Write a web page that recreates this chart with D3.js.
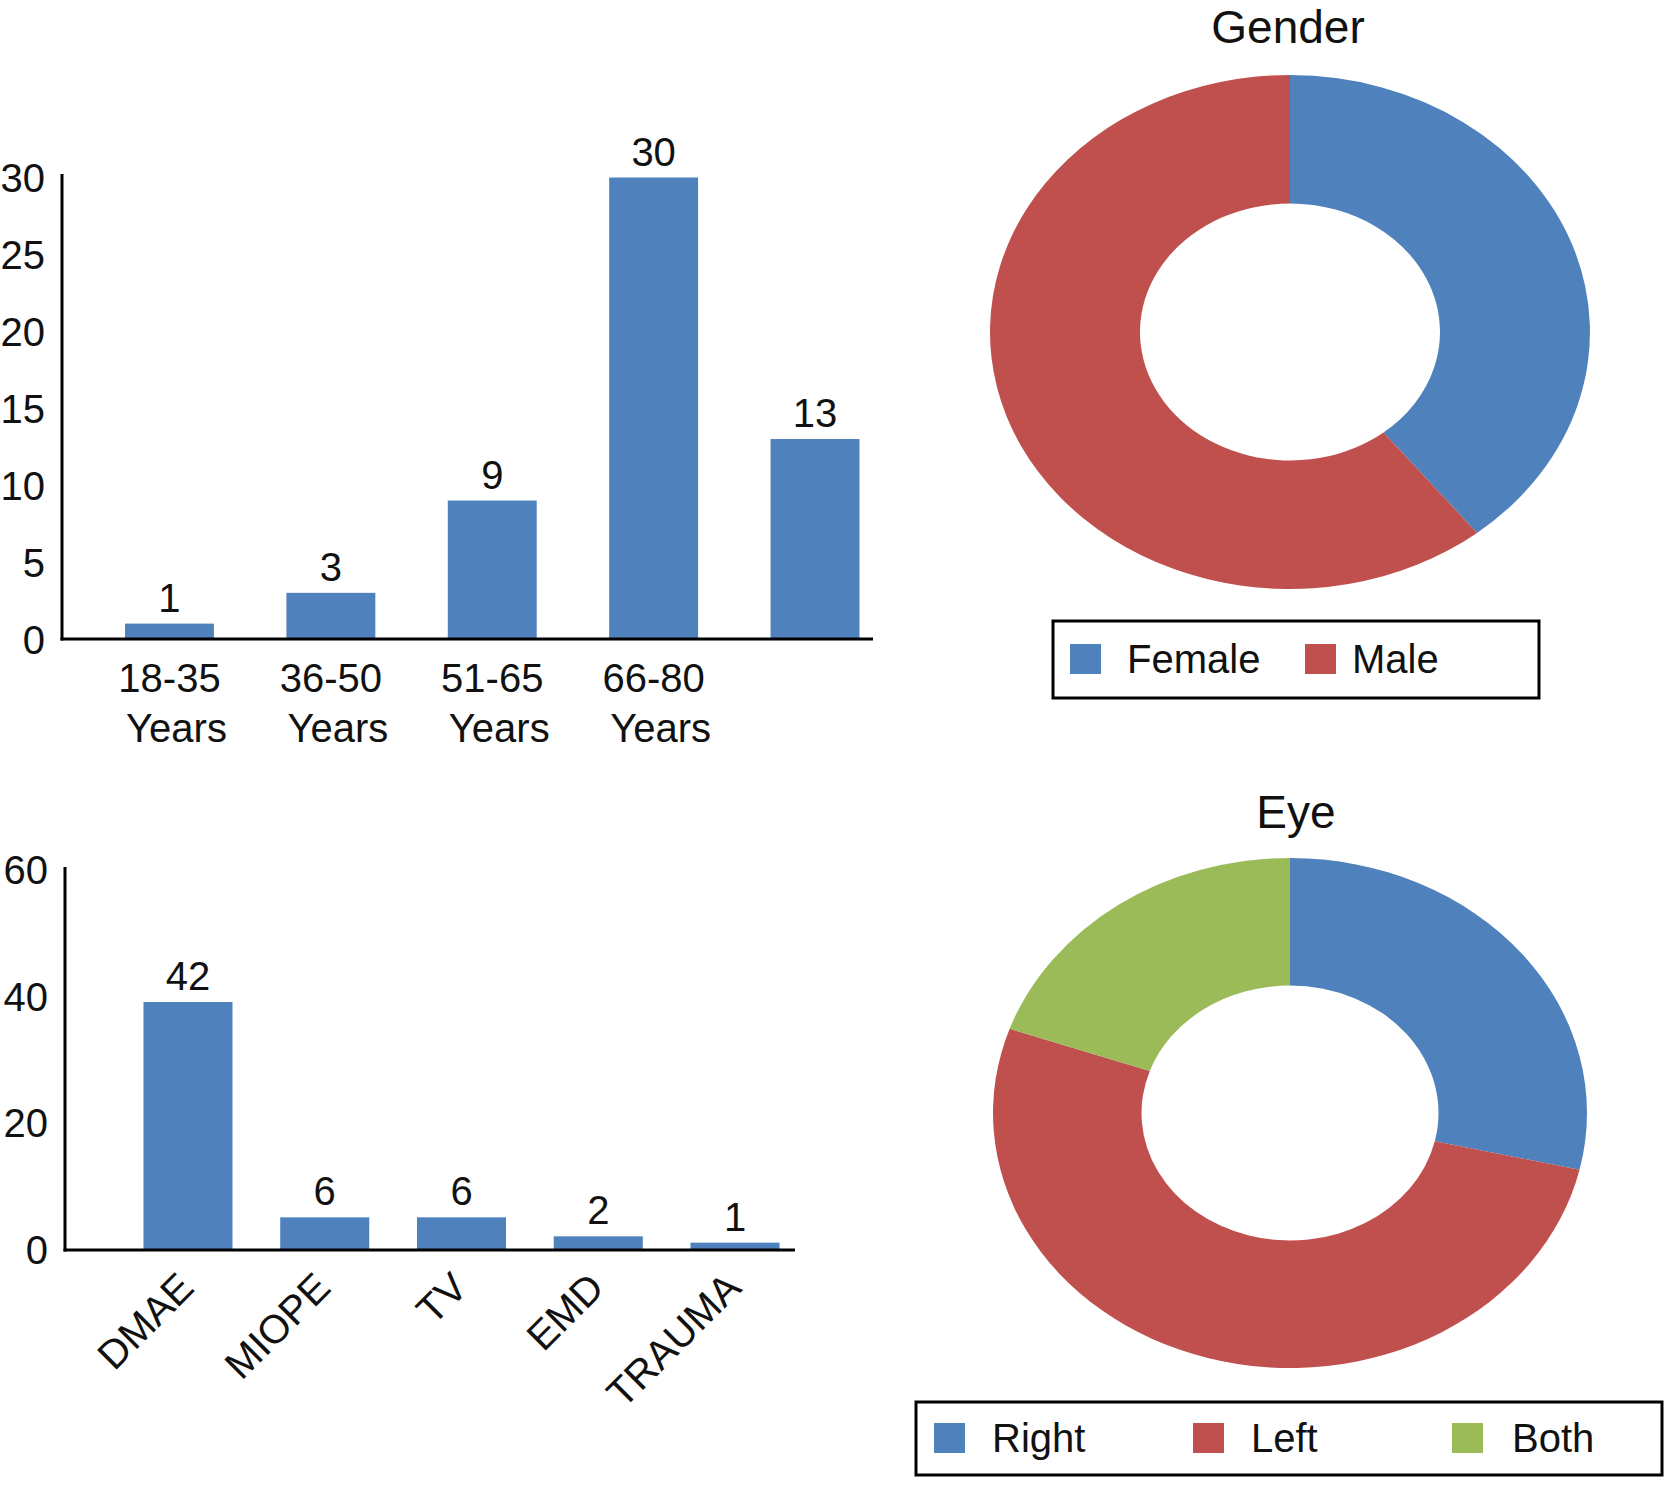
<!DOCTYPE html>
<html>
<head>
<meta charset="utf-8">
<script src="https://cdn.jsdelivr.net/npm/d3@7"></script>
<style>
  body { margin: 0; background: #fff; }
  svg { display: block; font-family: "Liberation Sans", Arial, Helvetica, sans-serif; }
</style>
</head>
<body>
<script>
// age groups, top left (the fifth bar has no category label in the source)
var ageGroups = ["18-35 Years", "36-50 Years", "51-65 Years", "66-80 Years", ""];
var ageCounts = [1, 3, 9, 30, 13];
var ageTicks = [0, 5, 10, 15, 20, 25, 30];

// diagnosis, bottom left: bar heights as drawn, and the numbers printed on them
var diagnoses = ["DMAE", "MIOPE", "TV", "EMD", "TRAUMA"];
var diagnosisBars = [39, 5, 5, 2, 1];
var diagnosisLabels = ["42", "6", "6", "2", "1"];
var diagnosisTicks = [0, 20, 40, 60];

// donuts
var genderNames = ["Female", "Male"];
var genderCounts = [22, 34];
var eyeNames = ["Right", "Left", "Both"];
var eyeCounts = [16, 29, 11];

var blue = "#4F81BD", red = "#C0504D", green = "#9BBB59";
var ink = "#111";

var svg = d3.select("body").append("svg")
    .attr("width", 1667)
    .attr("height", 1509);

function barChart(opts) {
    // summary:
    //      blue column chart with a left axis, an L-shaped frame and value labels
    var x = d3.scaleBand()
        .domain(opts.categories)
        .range(opts.band)
        .paddingInner(opts.pad)
        .paddingOuter(opts.pad / 2);
    var y = d3.scaleLinear()
        .domain([0, d3.max(opts.ticks)])
        .range([opts.zero, opts.top]);

    var g = svg.append("g");

    g.selectAll("rect.bar")
        .data(opts.values)
      .enter().append("rect")
        .attr("class", "bar")
        .attr("x", function (d, i) { return x(opts.categories[i]); })
        .attr("y", function (d) { return y(d); })
        .attr("width", x.bandwidth())
        .attr("height", function (d) { return y(0) - y(d); })
        .attr("fill", blue);

    g.selectAll("text.value")
        .data(opts.values)
      .enter().append("text")
        .attr("class", "value")
        .attr("x", function (d, i) { return x(opts.categories[i]) + x.bandwidth() / 2; })
        .attr("y", function (d) { return y(d) - 12; })
        .attr("text-anchor", "middle")
        .attr("font-size", 40)
        .attr("fill", ink)
        .text(function (d, i) { return opts.labels ? opts.labels[i] : d; });

    var axis = g.append("g")
        .attr("transform", "translate(" + opts.left + ",0)")
        .call(d3.axisLeft(y).tickValues(opts.ticks).tickSize(0).tickPadding(17))
        .attr("font-family", null)
        .attr("font-size", 40);
    axis.select(".domain").remove();
    axis.selectAll("text").attr("fill", ink).attr("dy", "0.36em");

    // frame
    g.append("line")
        .attr("x1", opts.left).attr("x2", opts.left)
        .attr("y1", opts.axisTop).attr("y2", opts.base + 1.5)
        .attr("stroke", "#000").attr("stroke-width", 3);
    g.append("line")
        .attr("x1", opts.left - 1.5).attr("x2", opts.right)
        .attr("y1", opts.base).attr("y2", opts.base)
        .attr("stroke", "#000").attr("stroke-width", 3);

    return { g: g, x: x, y: y };
}

// ---- age chart
var age = barChart({
    categories: ageGroups, values: ageCounts, ticks: ageTicks,
    band: [88.8, 895.7], pad: 0.449,
    zero: 639, top: 177.5, base: 639, axisTop: 174,
    left: 62, right: 873
});

age.g.selectAll("text.cat")
    .data(ageGroups)
  .enter().append("text")
    .attr("class", "cat")
    .attr("text-anchor", "middle")
    .attr("font-size", 40)
    .attr("fill", ink)
    .each(function (d) {
        var cx = age.x(d) + age.x.bandwidth() / 2;
        var words = d ? d.split(" ") : [];
        d3.select(this).selectAll("tspan")
            .data(words)
          .enter().append("tspan")
            .attr("x", function (w, i) { return cx + i * 7; })
            .attr("y", function (w, i) { return 692 + i * 50; })
            .text(function (w) { return w; });
    });

// ---- diagnosis chart
var diag = barChart({
    categories: diagnoses, values: diagnosisBars, labels: diagnosisLabels, ticks: diagnosisTicks,
    band: [119.6, 803.4], pad: 0.349,
    zero: 1249, top: 869, base: 1250, axisTop: 867,
    left: 65, right: 795
});

diag.g.selectAll("text.cat")
    .data(diagnoses)
  .enter().append("text")
    .attr("class", "cat")
    .attr("text-anchor", "end")
    .attr("font-size", 40)
    .attr("fill", ink)
    .attr("transform", function (d) {
        var cx = diag.x(d) + diag.x.bandwidth() / 2 + 8;
        return "translate(" + cx + ",1290) rotate(-45)";
    })
    .text(function (d) { return d; });

// ---- donuts
function donut(opts) {
    var pie = d3.pie().sort(null);
    var arc = d3.arc().innerRadius(opts.rx * 0.5).outerRadius(opts.rx);

    svg.append("text")
        .attr("x", opts.titleX)
        .attr("y", opts.titleY)
        .attr("text-anchor", "middle")
        .attr("font-size", 46)
        .attr("fill", ink)
        .text(opts.title);

    // excel drew these as flattened rings
    svg.append("g")
        .attr("transform", "translate(" + opts.cx + "," + opts.cy + ") scale(1," + (opts.ry / opts.rx) + ")")
      .selectAll("path")
        .data(pie(opts.values))
      .enter().append("path")
        .attr("d", arc)
        .attr("fill", function (d, i) { return opts.colors[i]; });

    var lg = svg.append("g");
    lg.append("rect")
        .attr("x", opts.box[0]).attr("y", opts.box[1])
        .attr("width", opts.box[2]).attr("height", opts.box[3])
        .attr("fill", "none").attr("stroke", "#000").attr("stroke-width", 3);

    var item = lg.selectAll("g.item")
        .data(opts.names)
      .enter().append("g")
        .attr("class", "item")
        .attr("transform", function (d, i) {
            return "translate(" + (opts.box[0] + opts.pad + i * opts.step) + "," + opts.swatchY + ")";
        });
    item.append("rect")
        .attr("width", 31).attr("height", 30)
        .attr("fill", function (d, i) { return opts.colors[i]; });
    item.append("text")
        .attr("x", function (d, i) { return opts.textGap[i]; })
        .attr("y", 29)
        .attr("font-size", 40)
        .attr("fill", ink)
        .text(function (d) { return d; });
}

donut({
    title: "Gender", titleX: 1288, titleY: 43,
    values: genderCounts, names: genderNames, colors: [blue, red],
    cx: 1290, cy: 332, rx: 300, ry: 257,
    box: [1053, 621, 486, 77], pad: 17, step: 235, swatchY: 644,
    textGap: [57, 47]
});

donut({
    title: "Eye", titleX: 1296, titleY: 828,
    values: eyeCounts, names: eyeNames, colors: [blue, red, green],
    cx: 1290, cy: 1113, rx: 297, ry: 255,
    box: [916, 1402, 746, 73], pad: 18, step: 259, swatchY: 1423,
    textGap: [58, 58, 60]
});
</script>
</body>
</html>
